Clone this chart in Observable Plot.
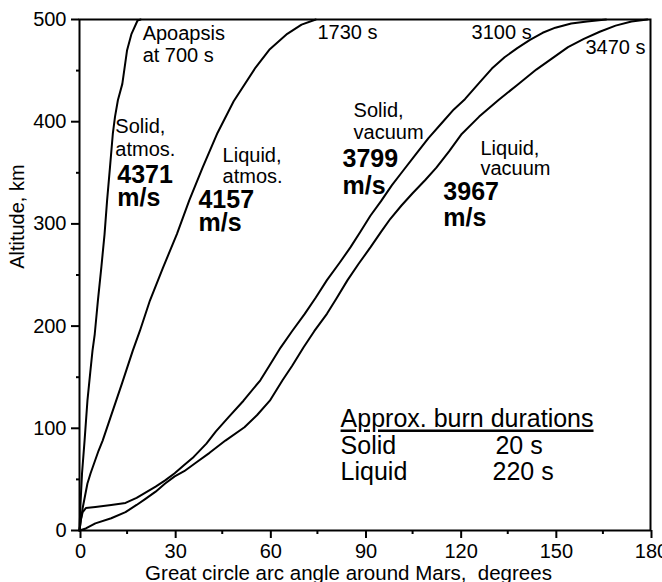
<!DOCTYPE html>
<html><head><meta charset="utf-8">
<script src="https://cdn.jsdelivr.net/npm/d3@7"></script>
<script src="https://cdn.jsdelivr.net/npm/@observablehq/plot@0.6"></script>
<style>
html,body{margin:0;padding:0;background:#fff;}
</style>
</head><body><div id="chart"></div>
<script>
const xTicks = [0, 30, 60, 90, 120, 150, 180];
const xMinorTicks = [15, 45, 75, 105, 135, 165];
const yTicks = [0, 100, 200, 300, 400, 500];
const yMinorTicks = [50, 150, 250, 350, 450];
const xLabel = "Great circle arc angle around Mars,\u00a0 degrees";
const yLabel = "Altitude, km";

// Solid propellant, atmospheric ascent (apoapsis at 700 s)
const solidAtmosDeg = [0, 0.3, 0.8, 1.6, 2.5, 3.4, 4.1, 4.8, 5.8, 6.9, 7.9, 8.7, 9.6, 10.5, 11.2, 12.1, 13.5, 15, 16.4, 18.3, 19.3];
const solidAtmosAlt = [0, 25, 56, 88, 127, 155, 176, 192, 225, 258, 290, 323, 355, 388, 405, 421, 437, 470, 486, 499, 500];

// Liquid propellant, atmospheric ascent (1730 s)
const liquidAtmosDeg = [0, 0.4, 1, 2.5, 3.5, 6, 7.3, 9.8, 13.4, 16.8, 19, 22.2, 26.3, 30.7, 34.6, 38.8, 43.5, 48.6, 55.5, 60, 65.5, 70, 74.5];
const liquidAtmosAlt = [0, 10, 22, 46, 56, 78, 88, 111, 144, 176, 195, 225, 257, 290, 323, 355, 389, 420, 453, 471, 486, 495, 500];

// Solid propellant, vacuum (3100 s)
const solidVacDeg = [0, 0.4, 1, 2, 5, 10, 14.5, 18, 20.8, 24, 27, 30, 33, 36, 40, 43, 47, 51.7, 57, 60, 63.4, 67, 71, 74.5, 78, 82, 85.4, 88.5, 91.7, 95, 98.5, 102, 106, 110, 114, 118, 121.5, 126, 130, 134, 138, 142, 146, 150, 155, 160, 166];
const solidVacAlt = [0, 10, 18, 22, 23, 25, 27, 32, 37, 43, 49, 56, 64, 72, 85, 97, 111, 127, 147, 162, 179, 195, 212, 228, 245, 262, 277, 292, 308, 322, 338, 352, 368, 384, 398, 412, 422, 438, 452, 463, 472, 480, 487, 492, 496, 498, 500];

// Liquid propellant, vacuum (3470 s)
const liquidVacDeg = [0, 2, 5, 10, 14.5, 18, 20.8, 24, 27, 30, 33, 37, 41, 46, 52, 56, 60, 64, 67, 70.6, 74, 78, 81, 84.5, 88, 91.7, 95, 98, 101.5, 105, 109, 112.5, 116.5, 120.5, 126, 132, 138, 144, 149, 154, 159, 164, 169, 174, 179];
const liquidVacAlt = [0, 2, 7, 12, 18, 25, 31, 38, 46, 53, 58, 67, 76, 88, 101, 113, 127, 147, 161, 179, 195, 212, 227, 245, 261, 277, 292, 305, 318, 330, 343, 355, 371, 388, 405, 421, 436, 451, 462, 473, 481, 488, 494, 498, 500];

const series = [
  {name: "Solid, atmos.", deg: solidAtmosDeg, alt: solidAtmosAlt},
  {name: "Liquid, atmos.", deg: liquidAtmosDeg, alt: liquidAtmosAlt},
  {name: "Solid, vacuum", deg: solidVacDeg, alt: solidVacAlt},
  {name: "Liquid, vacuum", deg: liquidVacDeg, alt: liquidVacAlt}
];
const rows = series.flatMap(s => s.deg.map((d, i) => ({series: s.name, deg: d, alt: s.alt[i]})));

// annotation texts anchored in data coordinates (deg, km) at their baselines
const notesRegular = [
  {t: "Apoapsis", deg: 19.9, alt: 479.5},
  {t: "at 700 s", deg: 19.9, alt: 458.9},
  {t: "Solid,", deg: 11.3, alt: 389.4},
  {t: "atmos.", deg: 11.3, alt: 366.9},
  {t: "Liquid,", deg: 45.1, alt: 361},
  {t: "atmos.", deg: 45.1, alt: 340},
  {t: "1730 s", deg: 75.0, alt: 481},
  {t: "3100 s", deg: 123.6, alt: 481},
  {t: "3470 s", deg: 159.5, alt: 466.7},
  {t: "Solid,", deg: 86.4, alt: 405},
  {t: "vacuum", deg: 86.4, alt: 382.6},
  {t: "Liquid,", deg: 126.4, alt: 367.9},
  {t: "vacuum", deg: 126.4, alt: 347.4}
];
const notesBold = [
  {t: "4371", deg: 11.9, alt: 340.5},
  {t: "m/s", deg: 11.9, alt: 318},
  {t: "4157", deg: 37.5, alt: 316},
  {t: "m/s", deg: 37.5, alt: 293.5},
  {t: "3799", deg: 82.9, alt: 355.2},
  {t: "m/s", deg: 82.9, alt: 329.7},
  {t: "3967", deg: 114.7, alt: 322.9},
  {t: "m/s", deg: 114.7, alt: 298.4}
];
const legendTitle = "Approx. burn durations";
const legendRows = [
  {t: legendTitle, deg: 82.3, alt: 100.8},
  {t: "Solid", deg: 82.3, alt: 74.4},
  {t: "20 s", deg: 131.1, alt: 74.4},
  {t: "Liquid", deg: 82.3, alt: 49.9},
  {t: "220 s", deg: 130.2, alt: 49.9}
];

const F = "'Liberation Sans', Arial, Helvetica, sans-serif";

const chart = Plot.plot({
  width: 662,
  height: 582,
  marginLeft: 79,
  marginRight: 12,
  marginTop: 19,
  marginBottom: 52,
  x: {domain: [0, 180]},
  y: {domain: [0, 500]},
  style: {fontFamily: F, background: "white", color: "black", overflow: "visible"},
  marks: [
    Plot.line(rows, {x: "deg", y: "alt", z: "series", stroke: "black", strokeWidth: 2, strokeLinejoin: "round"}),
    Plot.frame({stroke: "black", strokeWidth: 2}),
    Plot.axisX({ticks: xTicks, tickSize: 8, tickPadding: 5, fontSize: 20, strokeWidth: 2, label: null, dx: 1}),
    Plot.axisX({ticks: xMinorTicks, tickSize: 4, tickFormat: () => "", strokeWidth: 2, label: null}),
    Plot.axisY({ticks: yTicks, tickSize: 8, tickPadding: 5, fontSize: 20, strokeWidth: 2, label: null}),
    Plot.axisY({ticks: yMinorTicks, tickSize: 3, tickFormat: () => "", strokeWidth: 2, label: null}),
    Plot.text([{t: xLabel, deg: 84.8}], {x: "deg", text: "t", frameAnchor: "bottom", dy: 49, lineAnchor: "bottom", fontSize: 20.5, fill: "black"}),
    Plot.text([{t: yLabel, alt: 256}], {y: "alt", text: "t", frameAnchor: "left", dx: -62, rotate: -90, lineAnchor: "middle", fontSize: 20, fill: "black"}),
    Plot.text(notesRegular, {x: "deg", y: "alt", text: "t", textAnchor: "start", lineAnchor: "bottom", fontSize: 20, fill: "black"}),
    Plot.text(notesBold, {x: "deg", y: "alt", text: "t", textAnchor: "start", lineAnchor: "bottom", fontSize: 25, fontWeight: "bold", fill: "black"}),
    Plot.text(legendRows, {x: "deg", y: "alt", text: "t", textAnchor: "start", lineAnchor: "bottom", fontSize: 25, fill: "black"})
  ]
});
d3.select(chart).selectAll("text").filter(function() { return this.textContent === legendTitle; })
  .style("text-decoration", "underline");
document.getElementById("chart").appendChild(chart);
</script>
</body></html>
